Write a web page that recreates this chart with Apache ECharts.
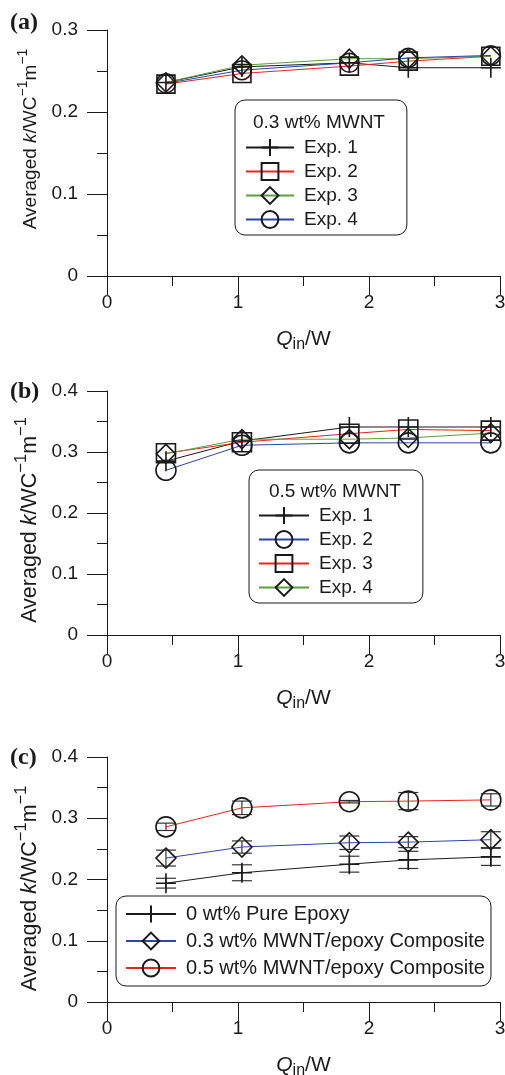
<!DOCTYPE html>
<html>
<head>
<meta charset="utf-8">
<script src="https://cdn.jsdelivr.net/npm/echarts@6.0.0/dist/echarts.min.js"></script>
<style>
html, body { margin: 0; padding: 0; background: #fff; }
#chart { width: 505px; height: 1075px; }
</style>
</head>
<body>
<div id="chart"></div>
<script>
// Q_in positions (W), shared by all three panels
const qIn = [0.45, 1.03, 1.85, 2.30, 2.93]

// (a) 0.3 wt% MWNT
const aExp1 = [0.236, 0.255, 0.260, 0.254, 0.254]
const aExp2 = [0.234, 0.247, 0.256, 0.262, 0.268]
const aExp3 = [0.236, 0.257, 0.265, 0.265, 0.268]
const aExp4 = [0.235, 0.251, 0.260, 0.266, 0.269]

// (b) 0.5 wt% MWNT
const bExp1 = [0.285, 0.318, 0.341, 0.341, 0.341]
const bExp2 = [0.270, 0.311, 0.315, 0.315, 0.315]
const bExp3 = [0.298, 0.316, 0.330, 0.337, 0.335]
const bExp4 = [0.297, 0.321, 0.321, 0.323, 0.331]

// (c) averages and error half-widths
const cPure = [0.194, 0.211, 0.225, 0.232, 0.237]
const cPureErr = [0.008, 0.013, 0.013, 0.014, 0.014]
const c03 = [0.235, 0.253, 0.260, 0.261, 0.265]
const c03Err = [0.013, 0.010, 0.011, 0.009, 0.013]
const c05 = [0.286, 0.317, 0.327, 0.328, 0.330]
const c05Err = [0.006, 0.011, 0.002, 0.014, 0.010]

const yMax = [0.3, 0.4, 0.4]
const xTicks = [0, 1, 2, 3]

const FONT = "'Liberation Sans', Arial, sans-serif"
const INK = "#1a1a1a"
const RED = "#e3271d"
const BLUE = "#2d44a8"
const GREEN = "#5d9f38"
const PLUS = "path://M10,0V20M0,10H20"

const chart = echarts.init(document.getElementById("chart"))

const pairs = (ys) => ys.map((v, i) => [qIn[i], v])

const txt = { fontFamily: FONT, fontSize: 19, color: INK }

const xAx = (i) => ({
  type: "value",
  gridIndex: i,
  min: xTicks[0],
  max: xTicks[xTicks.length - 1],
  interval: 1,
  name: "{i|Q}{sub|in}{n|/W}",
  nameLocation: "middle",
  nameGap: 53,
  nameTextStyle: {
    rich: {
      i: { ...txt, fontSize: 21, fontStyle: "italic", verticalAlign: "top" },
      n: { ...txt, fontSize: 21, verticalAlign: "top" },
      sub: { ...txt, fontSize: 16, padding: [8, 0, 0, 0], verticalAlign: "top" },
    },
  },
  axisLine: { lineStyle: { color: INK, width: 1 } },
  axisTick: { length: 19, lineStyle: { color: INK } },
  minorTick: { show: true, splitNumber: 2, length: 10, lineStyle: { color: INK } },
  splitLine: { show: false },
  axisLabel: { ...txt, margin: 17 },
})

// name size and shift differ a little between the panels
const yAx = (i, size, pad) => ({
  type: "value",
  gridIndex: i,
  min: 0,
  max: yMax[i],
  interval: 0.1,
  name: "{n|Averaged }{i|k}{n|/WC}{s|\u22121}{n|m}{s|\u22121}",
  nameLocation: "middle",
  nameGap: 65,
  nameRotate: 90,
  nameTextStyle: {
    padding: pad,
    rich: {
      n: { ...txt, fontSize: size, lineHeight: size + 6, verticalAlign: "bottom" },
      i: { ...txt, fontSize: size, fontStyle: "italic", lineHeight: size + 6, verticalAlign: "bottom" },
      s: { ...txt, fontSize: size - 5, verticalAlign: "top" },
    },
  },
  axisLine: { lineStyle: { color: INK, width: 1 } },
  axisTick: { length: 20, lineStyle: { color: INK } },
  minorTick: { show: true, splitNumber: 2, length: 10, lineStyle: { color: INK } },
  splitLine: { show: false },
  axisLabel: { ...txt, margin: 29 },
})

const lineSeries = (name, idx, ys, color, symbol, size) => ({
  name,
  type: "line",
  xAxisIndex: idx,
  yAxisIndex: idx,
  data: pairs(ys),
  symbol,
  symbolSize: size,
  lineStyle: { color, width: 1 },
  itemStyle: { color: "rgba(255,255,255,0)", borderColor: INK, borderWidth: 1.6 },
  z: 3,
})

const errSeries = (idx, ys, errs) => ({
  type: "custom",
  xAxisIndex: idx,
  yAxisIndex: idx,
  data: ys.map((v, i) => [qIn[i], v, errs[i]]),
  renderItem: (params, api) => {
    const x = api.value(0)
    const y = api.value(1)
    const e = api.value(2)
    const lo = api.coord([x, y - e])
    const hi = api.coord([x, y + e])
    const w = 10
    const style = { stroke: "#333", lineWidth: 1.2 }
    return {
      type: "group",
      children: [
        { type: "line", shape: { x1: lo[0], y1: lo[1], x2: hi[0], y2: hi[1] }, style },
        { type: "line", shape: { x1: lo[0] - w, y1: lo[1], x2: lo[0] + w, y2: lo[1] }, style },
        { type: "line", shape: { x1: hi[0] - w, y1: hi[1], x2: hi[0] + w, y2: hi[1] }, style },
      ],
    }
  },
  z: 2,
})

const legendBase = {
  orient: "vertical",
  selectedMode: false,
  itemHeight: 21,
  borderColor: INK,
  borderWidth: 1,
  borderRadius: 10,
  textStyle: { ...txt, padding: [0, 0, 0, 5] },
  formatter: (name) => name.slice(2),
}

const gridBase = { left: 107, width: 393, outerBoundsMode: "none" }

const option = {
  animation: false,
  backgroundColor: "#fff",
  grid: [
    { ...gridBase, top: 30, height: 246 },
    { ...gridBase, top: 391, height: 244 },
    { ...gridBase, top: 757, height: 245 },
  ],
  xAxis: [xAx(0), xAx(1), xAx(2)],
  yAxis: [yAx(0, 19, [0, 0, 0, 28]), yAx(1, 21.5, [0, 14, 0, 0]), yAx(2, 21.5, [0, 18, 0, 0])],
  legend: [
    {
      ...legendBase,
      left: 235,
      top: 100,
      itemWidth: 48,
      itemGap: 5,
      padding: [38, 49, 6, 10],
      data: ["a:Exp. 1", "a:Exp. 2", "a:Exp. 3", "a:Exp. 4"],
    },
    {
      ...legendBase,
      left: 249,
      top: 470,
      itemWidth: 50,
      itemGap: 5,
      padding: [36, 50, 6, 9],
      data: ["b:Exp. 1", "b:Exp. 2", "b:Exp. 3", "b:Exp. 4"],
    },
    {
      ...legendBase,
      left: 116,
      top: 896,
      itemWidth: 50,
      itemGap: 7,
      padding: [8, 6, 8, 9],
      textStyle: { ...txt, fontSize: 20, padding: [0, 0, 0, 5] },
      data: ["c:0 wt% Pure Epoxy", "c:0.3 wt% MWNT/epoxy Composite", "c:0.5 wt% MWNT/epoxy Composite"],
    },
  ],
  graphic: [
    { type: "text", x: 10, y: 11, style: { text: "(a)", font: "bold 24px 'Liberation Serif', serif", fill: INK } },
    { type: "text", x: 10, y: 380, style: { text: "(b)", font: "bold 24px 'Liberation Serif', serif", fill: INK } },
    { type: "text", x: 10, y: 746, style: { text: "(c)", font: "bold 24px 'Liberation Serif', serif", fill: INK } },
    { type: "text", x: 319, y: 123, style: { text: "0.3 wt% MWNT", font: "19px 'Liberation Sans', Arial", fill: INK, align: "center", verticalAlign: "middle" } },
    { type: "text", x: 335, y: 492, style: { text: "0.5 wt% MWNT", font: "19px 'Liberation Sans', Arial", fill: INK, align: "center", verticalAlign: "middle" } },
  ],
  series: [
    lineSeries("a:Exp. 1", 0, aExp1, INK, PLUS, 20),
    lineSeries("a:Exp. 2", 0, aExp2, RED, "rect", 18),
    lineSeries("a:Exp. 3", 0, aExp3, GREEN, "diamond", 19),
    lineSeries("a:Exp. 4", 0, aExp4, BLUE, "circle", 19),

    lineSeries("b:Exp. 1", 1, bExp1, INK, PLUS, 20),
    lineSeries("b:Exp. 2", 1, bExp2, BLUE, "circle", 20),
    lineSeries("b:Exp. 3", 1, bExp3, RED, "rect", 19),
    lineSeries("b:Exp. 4", 1, bExp4, GREEN, "diamond", 19),

    errSeries(2, cPure, cPureErr),
    errSeries(2, c03, c03Err),
    errSeries(2, c05, c05Err),
    lineSeries("c:0 wt% Pure Epoxy", 2, cPure, INK, PLUS, 20),
    lineSeries("c:0.3 wt% MWNT/epoxy Composite", 2, c03, BLUE, "diamond", 20),
    lineSeries("c:0.5 wt% MWNT/epoxy Composite", 2, c05, RED, "circle", 20),
  ],
}

chart.setOption(option)
</script>
</body>
</html>
